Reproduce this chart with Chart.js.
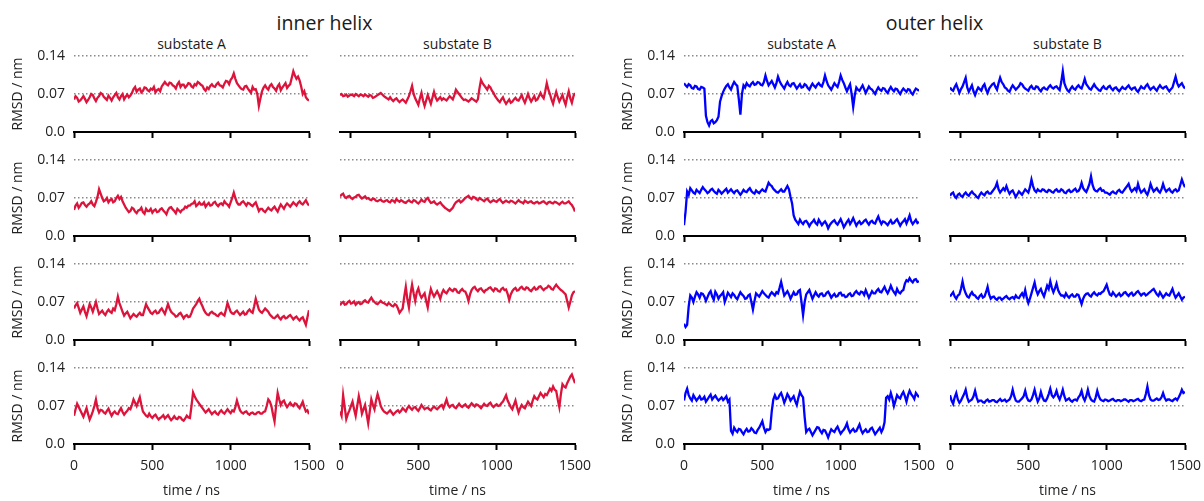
<!DOCTYPE html>
<html><head><meta charset="utf-8">
<script src="https://cdn.jsdelivr.net/npm/chart.js@4.4.1/dist/chart.umd.min.js"></script>
<style>
html,body{margin:0;padding:0;background:#fff;}
#wrap{position:relative;width:1204px;height:501px;overflow:hidden;font-family:'Open Sans',sans-serif;color:#1a1a1a;}
#wrap canvas{position:absolute;}
.t{position:absolute;white-space:nowrap;transform:translate(-50%,-50%);line-height:1;}
</style></head><body><div id="wrap"></div>
<script>
// ---- data (time in ns, RMSD in nm) ----
const timeNs = [0,10,20,30,40,50,60,70,80,90,100,110,120,130,140,150,160,170,180,190,200,210,220,230,240,250,260,270,280,290,300,310,320,330,340,350,360,370,380,390,400,410,420,430,440,450,460,470,480,490,500,510,520,530,540,550,560,570,580,590,600,610,620,630,640,650,660,670,680,690,700,710,720,730,740,750,760,770,780,790,800,810,820,830,840,850,860,870,880,890,900,910,920,930,940,950,960,970,980,990,1000,1010,1020,1030,1040,1050,1060,1070,1080,1090,1100,1110,1120,1130,1140,1150,1160,1170,1180,1190,1200,1210,1220,1230,1240,1250,1260,1270,1280,1290,1300,1310,1320,1330,1340,1350,1360,1370,1380,1390,1400,1410,1420,1430,1440,1450,1460,1470,1480,1490,1500];
const timeNsTopB = [-70,-60,-50,-40,-30,-20,-10,0,10,20,30,40,50,60,70,80,90,100,110,120,130,140,150,160,170,180,190,200,210,220,230,240,250,260,270,280,290,300,310,320,330,340,350,360,370,380,390,400,410,420,430,440,450,460,470,480,490,500,510,520,530,540,550,560,570,580,590,600,610,620,630,640,650,660,670,680,690,700,710,720,730,740,750,760,770,780,790,800,810,820,830,840,850,860,870,880,890,900,910,920,930,940,950,960,970,980,990,1000,1010,1020,1030,1040,1050,1060,1070,1080,1090,1100,1110,1120,1130,1140,1150,1160,1170,1180,1190,1200,1210,1220,1230,1240,1250,1260,1270,1280,1290,1300,1310,1320,1330,1340,1350,1360,1370,1380,1390,1400,1410,1420,1430];
const xTickValues = [0,500,1000,1500];
const xTickValuesTopB = [0,500,1000,1430];
const yTickValues = [0,0.07,0.14];
const yTickLabels = ['0.0','0.07','0.14'];
const groupTitles = ['inner helix','outer helix'];
const columnTitles = ['substate A','substate B'];

const innerA1 = [0.060,0.066,0.063,0.056,0.058,0.062,0.066,0.061,0.055,0.059,0.064,0.070,0.068,0.062,0.057,0.063,0.066,0.072,0.070,0.065,0.062,0.059,0.067,0.063,0.058,0.064,0.068,0.072,0.064,0.060,0.066,0.070,0.060,0.065,0.069,0.064,0.067,0.072,0.079,0.083,0.074,0.078,0.080,0.073,0.076,0.082,0.081,0.077,0.075,0.080,0.078,0.083,0.073,0.077,0.079,0.075,0.084,0.088,0.092,0.088,0.086,0.091,0.090,0.086,0.084,0.080,0.088,0.092,0.083,0.087,0.087,0.082,0.085,0.090,0.089,0.084,0.082,0.088,0.086,0.092,0.090,0.087,0.085,0.079,0.076,0.082,0.079,0.085,0.088,0.084,0.083,0.088,0.091,0.086,0.085,0.082,0.089,0.094,0.093,0.088,0.096,0.100,0.108,0.098,0.090,0.086,0.082,0.079,0.078,0.084,0.085,0.080,0.076,0.072,0.083,0.078,0.079,0.070,0.048,0.062,0.075,0.082,0.086,0.081,0.078,0.085,0.088,0.083,0.080,0.076,0.084,0.088,0.077,0.082,0.086,0.090,0.081,0.085,0.088,0.100,0.112,0.104,0.098,0.102,0.095,0.084,0.070,0.075,0.064,0.060,0.058];
const innerA2 = [0.048,0.056,0.060,0.052,0.056,0.061,0.062,0.057,0.054,0.058,0.060,0.064,0.058,0.055,0.063,0.072,0.086,0.078,0.070,0.064,0.066,0.070,0.062,0.066,0.068,0.062,0.064,0.070,0.074,0.068,0.072,0.064,0.058,0.052,0.048,0.044,0.046,0.052,0.050,0.045,0.042,0.047,0.048,0.052,0.044,0.041,0.050,0.046,0.046,0.050,0.043,0.047,0.049,0.044,0.045,0.049,0.051,0.047,0.044,0.040,0.048,0.052,0.053,0.049,0.046,0.042,0.050,0.047,0.044,0.048,0.049,0.054,0.052,0.056,0.056,0.059,0.060,0.064,0.055,0.058,0.062,0.058,0.058,0.062,0.054,0.058,0.061,0.056,0.057,0.061,0.063,0.058,0.055,0.059,0.060,0.057,0.064,0.060,0.058,0.054,0.062,0.070,0.080,0.070,0.062,0.058,0.058,0.062,0.064,0.060,0.056,0.061,0.060,0.057,0.055,0.059,0.062,0.054,0.046,0.050,0.050,0.046,0.044,0.048,0.052,0.049,0.047,0.051,0.054,0.049,0.045,0.052,0.058,0.054,0.050,0.056,0.060,0.057,0.054,0.058,0.062,0.059,0.056,0.061,0.064,0.060,0.058,0.062,0.066,0.060,0.056];
const innerA3 = [0.058,0.064,0.068,0.059,0.050,0.056,0.062,0.052,0.044,0.055,0.066,0.060,0.052,0.061,0.070,0.058,0.048,0.051,0.054,0.049,0.046,0.052,0.056,0.052,0.050,0.058,0.055,0.066,0.080,0.068,0.060,0.052,0.045,0.049,0.052,0.046,0.040,0.044,0.048,0.045,0.043,0.047,0.050,0.046,0.046,0.056,0.066,0.060,0.055,0.050,0.048,0.052,0.054,0.049,0.050,0.055,0.058,0.053,0.048,0.057,0.066,0.058,0.052,0.049,0.047,0.043,0.044,0.048,0.050,0.045,0.040,0.044,0.046,0.042,0.043,0.050,0.058,0.062,0.066,0.072,0.076,0.068,0.062,0.055,0.050,0.047,0.046,0.050,0.052,0.049,0.048,0.045,0.044,0.048,0.050,0.047,0.045,0.056,0.068,0.060,0.052,0.049,0.048,0.052,0.054,0.050,0.046,0.049,0.052,0.047,0.048,0.053,0.056,0.052,0.050,0.062,0.076,0.066,0.056,0.052,0.050,0.054,0.058,0.055,0.052,0.047,0.044,0.041,0.040,0.043,0.046,0.041,0.038,0.042,0.044,0.040,0.041,0.044,0.046,0.042,0.038,0.041,0.043,0.039,0.036,0.040,0.042,0.035,0.028,0.042,0.055];
const innerA4 = [0.052,0.064,0.074,0.068,0.062,0.056,0.050,0.058,0.066,0.055,0.045,0.052,0.060,0.070,0.082,0.066,0.058,0.063,0.062,0.058,0.056,0.061,0.065,0.058,0.052,0.057,0.060,0.056,0.055,0.061,0.066,0.059,0.054,0.058,0.061,0.066,0.064,0.072,0.082,0.076,0.070,0.078,0.086,0.072,0.060,0.056,0.052,0.050,0.056,0.051,0.048,0.052,0.054,0.049,0.045,0.048,0.050,0.053,0.047,0.050,0.053,0.048,0.044,0.047,0.051,0.047,0.046,0.050,0.049,0.045,0.043,0.047,0.052,0.049,0.048,0.070,0.095,0.088,0.082,0.078,0.074,0.070,0.066,0.062,0.058,0.061,0.064,0.059,0.055,0.058,0.060,0.056,0.054,0.059,0.062,0.058,0.056,0.060,0.064,0.060,0.057,0.062,0.060,0.068,0.080,0.070,0.062,0.058,0.056,0.059,0.060,0.056,0.054,0.057,0.058,0.055,0.055,0.058,0.059,0.056,0.056,0.059,0.060,0.070,0.082,0.078,0.070,0.055,0.042,0.070,0.094,0.082,0.072,0.078,0.080,0.073,0.068,0.072,0.076,0.072,0.070,0.075,0.074,0.069,0.066,0.072,0.078,0.068,0.060,0.062,0.055];
const innerB1 = [0.068,0.070,0.066,0.067,0.069,0.065,0.067,0.069,0.068,0.066,0.070,0.068,0.066,0.069,0.068,0.066,0.069,0.067,0.065,0.068,0.067,0.063,0.064,0.066,0.068,0.070,0.072,0.069,0.066,0.064,0.062,0.060,0.064,0.060,0.057,0.060,0.062,0.058,0.055,0.058,0.060,0.057,0.054,0.060,0.066,0.075,0.085,0.070,0.062,0.056,0.050,0.062,0.072,0.058,0.048,0.058,0.068,0.060,0.052,0.063,0.074,0.064,0.058,0.061,0.064,0.059,0.062,0.060,0.058,0.062,0.066,0.063,0.060,0.068,0.078,0.074,0.070,0.066,0.062,0.059,0.060,0.058,0.056,0.059,0.062,0.060,0.058,0.056,0.060,0.080,0.096,0.090,0.086,0.082,0.078,0.085,0.082,0.076,0.072,0.066,0.062,0.058,0.055,0.060,0.064,0.057,0.052,0.056,0.060,0.054,0.056,0.060,0.063,0.059,0.058,0.063,0.068,0.060,0.054,0.062,0.070,0.062,0.056,0.061,0.066,0.058,0.060,0.066,0.072,0.066,0.062,0.075,0.090,0.078,0.070,0.060,0.052,0.064,0.074,0.064,0.056,0.062,0.068,0.058,0.050,0.064,0.075,0.062,0.054,0.066,0.072];
const innerB2 = [0.073,0.076,0.078,0.072,0.070,0.073,0.074,0.070,0.068,0.071,0.072,0.075,0.076,0.072,0.069,0.071,0.073,0.069,0.070,0.067,0.066,0.069,0.068,0.065,0.064,0.066,0.067,0.064,0.063,0.065,0.066,0.063,0.062,0.066,0.065,0.062,0.068,0.065,0.063,0.066,0.064,0.062,0.061,0.064,0.066,0.063,0.062,0.066,0.065,0.062,0.060,0.063,0.067,0.064,0.063,0.068,0.070,0.065,0.061,0.062,0.064,0.060,0.058,0.060,0.062,0.058,0.055,0.052,0.050,0.048,0.046,0.049,0.052,0.058,0.062,0.064,0.066,0.062,0.064,0.067,0.070,0.072,0.074,0.070,0.068,0.072,0.071,0.068,0.066,0.070,0.068,0.066,0.064,0.067,0.069,0.065,0.062,0.064,0.066,0.064,0.063,0.066,0.068,0.064,0.061,0.063,0.065,0.063,0.062,0.065,0.064,0.062,0.060,0.063,0.066,0.063,0.062,0.060,0.065,0.063,0.061,0.063,0.064,0.061,0.060,0.062,0.063,0.060,0.061,0.063,0.064,0.061,0.059,0.062,0.063,0.061,0.060,0.063,0.062,0.060,0.058,0.061,0.063,0.060,0.060,0.062,0.064,0.060,0.057,0.052,0.045];
const innerB3 = [0.064,0.068,0.070,0.065,0.066,0.070,0.072,0.067,0.068,0.071,0.065,0.068,0.070,0.066,0.067,0.071,0.073,0.070,0.069,0.074,0.078,0.073,0.070,0.067,0.066,0.069,0.072,0.069,0.068,0.066,0.064,0.068,0.066,0.063,0.062,0.066,0.064,0.058,0.050,0.054,0.058,0.080,0.098,0.075,0.060,0.085,0.102,0.086,0.072,0.088,0.095,0.084,0.078,0.082,0.086,0.072,0.060,0.080,0.094,0.086,0.080,0.085,0.090,0.084,0.076,0.086,0.092,0.088,0.086,0.091,0.095,0.092,0.090,0.094,0.093,0.088,0.087,0.091,0.094,0.090,0.089,0.082,0.072,0.084,0.092,0.096,0.098,0.093,0.090,0.094,0.095,0.091,0.088,0.092,0.093,0.096,0.097,0.093,0.090,0.095,0.094,0.090,0.089,0.094,0.096,0.092,0.093,0.085,0.074,0.084,0.090,0.094,0.096,0.091,0.092,0.096,0.098,0.094,0.093,0.097,0.096,0.092,0.090,0.094,0.097,0.093,0.094,0.098,0.099,0.095,0.092,0.095,0.096,0.100,0.098,0.094,0.093,0.098,0.102,0.098,0.095,0.092,0.090,0.087,0.084,0.072,0.060,0.070,0.082,0.088,0.090];
const innerB4 = [0.060,0.052,0.090,0.068,0.046,0.055,0.062,0.070,0.078,0.064,0.052,0.070,0.088,0.074,0.056,0.064,0.072,0.055,0.038,0.060,0.082,0.072,0.064,0.080,0.092,0.082,0.070,0.064,0.060,0.058,0.056,0.059,0.062,0.058,0.054,0.057,0.060,0.062,0.058,0.061,0.066,0.063,0.060,0.066,0.070,0.066,0.063,0.067,0.068,0.064,0.061,0.066,0.072,0.068,0.064,0.066,0.067,0.064,0.062,0.066,0.069,0.066,0.064,0.067,0.070,0.072,0.066,0.074,0.082,0.072,0.068,0.071,0.072,0.068,0.066,0.070,0.074,0.070,0.068,0.071,0.073,0.069,0.067,0.071,0.075,0.072,0.069,0.073,0.072,0.069,0.066,0.070,0.074,0.071,0.070,0.074,0.076,0.071,0.068,0.071,0.073,0.070,0.071,0.075,0.078,0.084,0.090,0.080,0.074,0.068,0.064,0.072,0.080,0.068,0.058,0.066,0.072,0.068,0.066,0.072,0.078,0.074,0.070,0.080,0.088,0.084,0.082,0.088,0.094,0.090,0.086,0.092,0.090,0.096,0.102,0.098,0.106,0.100,0.098,0.082,0.068,0.092,0.110,0.106,0.104,0.112,0.118,0.124,0.128,0.120,0.112];
const outerA1 = [0.090,0.086,0.083,0.088,0.086,0.081,0.080,0.085,0.084,0.079,0.078,0.083,0.082,0.080,0.030,0.018,0.012,0.020,0.022,0.016,0.018,0.022,0.028,0.056,0.066,0.074,0.080,0.085,0.088,0.082,0.078,0.086,0.092,0.088,0.085,0.060,0.032,0.070,0.086,0.082,0.090,0.086,0.084,0.089,0.092,0.087,0.088,0.092,0.091,0.087,0.086,0.092,0.104,0.094,0.086,0.090,0.094,0.088,0.082,0.090,0.102,0.094,0.088,0.084,0.080,0.087,0.092,0.086,0.084,0.089,0.090,0.085,0.080,0.084,0.088,0.082,0.083,0.088,0.086,0.081,0.078,0.084,0.089,0.085,0.082,0.087,0.090,0.086,0.084,0.092,0.104,0.094,0.086,0.082,0.078,0.084,0.090,0.086,0.083,0.092,0.104,0.096,0.090,0.082,0.075,0.082,0.088,0.070,0.046,0.068,0.082,0.078,0.076,0.081,0.086,0.079,0.072,0.078,0.084,0.080,0.078,0.074,0.070,0.077,0.082,0.078,0.076,0.081,0.080,0.075,0.072,0.078,0.083,0.078,0.075,0.080,0.079,0.074,0.070,0.076,0.080,0.077,0.074,0.079,0.078,0.072,0.069,0.075,0.080,0.078,0.076];
const outerA2 = [0.020,0.045,0.082,0.076,0.088,0.084,0.080,0.078,0.085,0.082,0.079,0.085,0.090,0.086,0.083,0.079,0.081,0.085,0.087,0.083,0.080,0.078,0.085,0.082,0.078,0.081,0.084,0.087,0.080,0.083,0.086,0.082,0.079,0.083,0.084,0.080,0.076,0.080,0.085,0.082,0.081,0.085,0.088,0.083,0.080,0.078,0.084,0.081,0.079,0.083,0.086,0.083,0.082,0.090,0.098,0.094,0.092,0.087,0.084,0.081,0.080,0.083,0.086,0.082,0.082,0.087,0.092,0.086,0.072,0.060,0.038,0.030,0.026,0.022,0.030,0.025,0.022,0.027,0.028,0.024,0.018,0.023,0.026,0.030,0.024,0.021,0.030,0.025,0.020,0.024,0.027,0.022,0.014,0.020,0.024,0.027,0.029,0.024,0.021,0.026,0.031,0.024,0.016,0.021,0.026,0.030,0.022,0.027,0.033,0.026,0.019,0.024,0.027,0.022,0.024,0.028,0.030,0.025,0.021,0.026,0.028,0.024,0.023,0.030,0.036,0.028,0.022,0.027,0.026,0.023,0.020,0.025,0.029,0.023,0.024,0.028,0.031,0.025,0.019,0.024,0.027,0.031,0.023,0.030,0.038,0.027,0.022,0.026,0.030,0.024,0.026];
const outerA3 = [0.030,0.024,0.028,0.062,0.082,0.078,0.070,0.080,0.088,0.084,0.078,0.086,0.085,0.080,0.072,0.079,0.086,0.090,0.080,0.074,0.089,0.084,0.076,0.081,0.084,0.088,0.070,0.078,0.087,0.083,0.079,0.086,0.083,0.078,0.075,0.082,0.088,0.084,0.081,0.076,0.077,0.082,0.084,0.070,0.056,0.072,0.086,0.083,0.080,0.085,0.090,0.086,0.083,0.080,0.078,0.084,0.088,0.085,0.082,0.088,0.086,0.096,0.107,0.094,0.082,0.086,0.090,0.084,0.076,0.082,0.088,0.083,0.084,0.090,0.092,0.070,0.046,0.070,0.084,0.088,0.092,0.084,0.076,0.082,0.088,0.083,0.080,0.085,0.086,0.081,0.082,0.087,0.089,0.084,0.078,0.082,0.085,0.080,0.081,0.086,0.087,0.082,0.083,0.079,0.080,0.084,0.086,0.081,0.082,0.087,0.090,0.086,0.084,0.089,0.088,0.083,0.092,0.085,0.078,0.084,0.090,0.086,0.086,0.091,0.094,0.089,0.088,0.093,0.098,0.091,0.086,0.092,0.100,0.093,0.088,0.084,0.094,0.088,0.086,0.090,0.092,0.104,0.110,0.108,0.114,0.109,0.106,0.111,0.112,0.107,0.108];
const outerA4 = [0.080,0.094,0.102,0.090,0.084,0.080,0.090,0.085,0.080,0.084,0.088,0.082,0.083,0.087,0.078,0.082,0.087,0.091,0.082,0.086,0.089,0.084,0.080,0.083,0.086,0.081,0.084,0.088,0.078,0.082,0.024,0.019,0.030,0.025,0.022,0.028,0.027,0.022,0.018,0.024,0.028,0.023,0.024,0.029,0.026,0.021,0.020,0.026,0.030,0.036,0.042,0.030,0.022,0.027,0.026,0.028,0.060,0.082,0.090,0.083,0.084,0.090,0.094,0.086,0.076,0.083,0.092,0.087,0.080,0.084,0.088,0.079,0.072,0.085,0.096,0.090,0.086,0.050,0.022,0.026,0.028,0.022,0.016,0.021,0.026,0.031,0.030,0.024,0.020,0.026,0.025,0.019,0.012,0.020,0.027,0.024,0.022,0.028,0.032,0.025,0.019,0.023,0.026,0.031,0.038,0.027,0.021,0.025,0.028,0.023,0.024,0.030,0.036,0.026,0.020,0.024,0.027,0.022,0.023,0.028,0.030,0.024,0.018,0.022,0.026,0.030,0.022,0.028,0.040,0.085,0.088,0.082,0.094,0.084,0.070,0.080,0.090,0.086,0.084,0.091,0.096,0.088,0.078,0.090,0.098,0.092,0.088,0.083,0.094,0.090,0.086];
const outerB1 = [0.082,0.078,0.076,0.083,0.088,0.080,0.072,0.079,0.084,0.092,0.100,0.082,0.074,0.080,0.086,0.075,0.068,0.076,0.082,0.079,0.076,0.084,0.088,0.078,0.072,0.080,0.084,0.088,0.090,0.083,0.078,0.090,0.100,0.092,0.088,0.082,0.080,0.076,0.074,0.081,0.086,0.082,0.078,0.081,0.084,0.090,0.088,0.083,0.080,0.078,0.076,0.082,0.085,0.080,0.079,0.084,0.083,0.078,0.075,0.080,0.082,0.079,0.078,0.083,0.086,0.082,0.080,0.083,0.084,0.080,0.077,0.092,0.112,0.090,0.082,0.077,0.074,0.080,0.084,0.080,0.078,0.083,0.086,0.082,0.080,0.088,0.098,0.088,0.084,0.080,0.078,0.083,0.088,0.083,0.080,0.077,0.076,0.081,0.084,0.080,0.079,0.083,0.085,0.080,0.077,0.081,0.082,0.078,0.075,0.079,0.083,0.080,0.079,0.083,0.086,0.081,0.078,0.081,0.082,0.077,0.074,0.079,0.084,0.081,0.080,0.085,0.088,0.082,0.078,0.081,0.083,0.079,0.076,0.082,0.086,0.082,0.080,0.083,0.084,0.079,0.075,0.079,0.082,0.092,0.102,0.090,0.084,0.087,0.090,0.084,0.080];
const outerB2 = [0.074,0.078,0.080,0.073,0.070,0.076,0.078,0.074,0.072,0.077,0.080,0.076,0.074,0.079,0.082,0.078,0.076,0.072,0.070,0.076,0.080,0.077,0.075,0.080,0.082,0.078,0.078,0.082,0.086,0.090,0.098,0.086,0.080,0.084,0.088,0.084,0.092,0.084,0.078,0.082,0.084,0.078,0.072,0.077,0.082,0.079,0.076,0.081,0.086,0.083,0.080,0.090,0.104,0.092,0.084,0.081,0.086,0.083,0.082,0.086,0.085,0.082,0.081,0.085,0.084,0.081,0.080,0.084,0.086,0.082,0.082,0.086,0.084,0.080,0.079,0.083,0.085,0.081,0.082,0.085,0.087,0.082,0.083,0.088,0.098,0.088,0.084,0.081,0.088,0.096,0.110,0.094,0.086,0.083,0.082,0.086,0.088,0.083,0.084,0.080,0.080,0.078,0.076,0.080,0.082,0.079,0.078,0.083,0.085,0.081,0.080,0.084,0.088,0.092,0.096,0.087,0.082,0.085,0.088,0.083,0.096,0.086,0.080,0.083,0.086,0.080,0.076,0.084,0.096,0.088,0.082,0.085,0.088,0.083,0.080,0.086,0.096,0.087,0.082,0.085,0.087,0.082,0.080,0.084,0.086,0.082,0.084,0.094,0.104,0.096,0.090];
const outerB3 = [0.080,0.084,0.088,0.080,0.076,0.082,0.084,0.094,0.108,0.094,0.086,0.080,0.078,0.084,0.088,0.083,0.082,0.078,0.076,0.081,0.084,0.078,0.080,0.088,0.098,0.084,0.076,0.079,0.080,0.076,0.074,0.078,0.078,0.074,0.076,0.079,0.081,0.077,0.075,0.078,0.079,0.076,0.082,0.078,0.077,0.082,0.086,0.080,0.092,0.078,0.068,0.076,0.086,0.096,0.106,0.092,0.084,0.090,0.094,0.086,0.080,0.090,0.100,0.094,0.108,0.096,0.088,0.095,0.104,0.092,0.086,0.082,0.082,0.079,0.086,0.081,0.078,0.082,0.084,0.080,0.080,0.084,0.083,0.075,0.066,0.076,0.082,0.085,0.086,0.082,0.080,0.085,0.088,0.084,0.082,0.086,0.085,0.088,0.090,0.096,0.102,0.092,0.084,0.082,0.088,0.084,0.080,0.083,0.086,0.081,0.083,0.087,0.088,0.084,0.081,0.085,0.087,0.082,0.084,0.088,0.090,0.086,0.082,0.085,0.086,0.082,0.084,0.087,0.089,0.092,0.094,0.089,0.084,0.081,0.088,0.083,0.078,0.082,0.086,0.083,0.082,0.088,0.094,0.085,0.078,0.082,0.086,0.080,0.074,0.078,0.080];
const outerB4 = [0.090,0.080,0.074,0.086,0.094,0.082,0.076,0.080,0.086,0.092,0.100,0.086,0.078,0.080,0.082,0.088,0.098,0.086,0.078,0.080,0.080,0.077,0.076,0.080,0.082,0.078,0.079,0.081,0.081,0.078,0.077,0.080,0.083,0.079,0.080,0.082,0.078,0.080,0.082,0.088,0.100,0.088,0.080,0.078,0.078,0.081,0.084,0.088,0.098,0.086,0.080,0.079,0.082,0.090,0.100,0.088,0.078,0.084,0.096,0.086,0.080,0.079,0.084,0.092,0.102,0.090,0.086,0.090,0.098,0.088,0.082,0.090,0.100,0.088,0.080,0.082,0.084,0.080,0.078,0.081,0.082,0.080,0.086,0.090,0.098,0.086,0.080,0.088,0.100,0.088,0.082,0.079,0.078,0.086,0.098,0.088,0.082,0.080,0.079,0.082,0.081,0.079,0.080,0.082,0.083,0.080,0.079,0.081,0.081,0.079,0.080,0.082,0.082,0.080,0.078,0.081,0.081,0.079,0.080,0.082,0.083,0.080,0.079,0.081,0.082,0.092,0.106,0.090,0.082,0.080,0.080,0.082,0.084,0.081,0.082,0.086,0.094,0.085,0.080,0.082,0.082,0.080,0.079,0.082,0.084,0.081,0.086,0.092,0.100,0.094,0.096];

const panels = [
  {group:0,col:0,row:0,values:innerA1},{group:0,col:0,row:1,values:innerA2},{group:0,col:0,row:2,values:innerA3},{group:0,col:0,row:3,values:innerA4},
  {group:0,col:1,row:0,values:innerB1},{group:0,col:1,row:1,values:innerB2},{group:0,col:1,row:2,values:innerB3},{group:0,col:1,row:3,values:innerB4},
  {group:1,col:0,row:0,values:outerA1},{group:1,col:0,row:1,values:outerA2},{group:1,col:0,row:2,values:outerA3},{group:1,col:0,row:3,values:outerA4},
  {group:1,col:1,row:0,values:outerB1},{group:1,col:1,row:1,values:outerB2},{group:1,col:1,row:2,values:outerB3},{group:1,col:1,row:3,values:outerB4}
];

// ---- layout / style ----
const groupColors = ['#dc143c','#0000ff'];
const plotLeft = [[74,340],[684,950]];
const plotW = 235, plotH = 76;
const rowTop = [56,160,264,368];
const yAxisW = 74, padTop = 22, padRight = 28, pageH = 501;
const wrap = document.getElementById('wrap');
Chart.defaults.font.family = "'Open Sans', sans-serif";
Chart.defaults.font.size = 14;
Chart.defaults.color = '#222';

function addText(txt, cx, cy, size){
  const d = document.createElement('div');
  d.className = 't'; d.textContent = txt;
  d.style.left = cx + 'px'; d.style.top = cy + 'px'; d.style.fontSize = size + 'px';
  wrap.appendChild(d);
}
for (let g = 0; g < 2; g++) {
  addText(groupTitles[g], (plotLeft[g][0] + plotLeft[g][1] + plotW) / 2, 23, 19.5);
  for (let c = 0; c < 2; c++) addText(columnTitles[c], plotLeft[g][c] + plotW / 2, 44, 14);
}

panels.forEach(p => {
  const left = plotLeft[p.group][p.col];
  const top = rowTop[p.row];
  const bottomRow = p.row === 3;
  const topB = p.row === 0 && p.col === 1;
  const xh = bottomRow ? pageH - (top + plotH) : 22;
  const W = yAxisW + plotW + padRight, H = padTop + plotH + xh;
  const cv = document.createElement('canvas');
  cv.width = W; cv.height = H;
  cv.style.width = W + 'px'; cv.style.height = H + 'px';
  cv.style.left = (left - yAxisW) + 'px'; cv.style.top = (top - padTop) + 'px';
  wrap.appendChild(cv);
  const xs = topB ? timeNsTopB : timeNs;
  const xt = topB ? xTickValuesTopB : xTickValues;
  const pts = p.values.map((v, i) => ({x: xs[i], y: v}));
  new Chart(cv, {
    type: 'line',
    data: {datasets: [{data: pts, borderColor: groupColors[p.group], borderWidth: 2.3, pointRadius: 0, tension: 0, fill: false}]},
    options: {
      responsive: false, animation: false, devicePixelRatio: 1,
      layout: {padding: {left: 0, top: padTop, right: padRight, bottom: 0}},
      plugins: {legend: {display: false}, tooltip: {enabled: false}},
      scales: {
        x: {
          type: 'linear', min: xs[0], max: xs[xs.length - 1],
          afterBuildTicks: s => { s.ticks = xt.map(v => ({value: v})); },
          afterFit: s => { s.height = xh; },
          ticks: {display: bottomRow, autoSkip: false, maxRotation: 0, padding: 8, color: '#222', font: {size: 14}, callback: v => String(v)},
          grid: {drawOnChartArea: false, drawTicks: true, tickLength: 6, tickWidth: 2, tickColor: '#000'},
          border: {display: true, width: 2, color: '#000'},
          title: {display: bottomRow, text: 'time / ns', color: '#222', font: {size: 14}, padding: {top: 0, bottom: 2}}
        },
        y: {
          type: 'linear', min: 0, max: 0.14,
          afterBuildTicks: s => { s.ticks = yTickValues.map(v => ({value: v})); },
          afterFit: s => { s.width = yAxisW; },
          ticks: {display: p.col === 0, padding: 9, color: '#222', font: {size: 14}, callback: (v, i) => yTickLabels[i]},
          grid: {drawTicks: false, lineWidth: 1.5, color: c => (c.tick && c.tick.value > 0) ? '#8a8a8a' : 'rgba(0,0,0,0)'},
          border: {display: false, dash: [1.5, 2.5]},
          title: {display: p.col === 0, text: 'RMSD / nm', color: '#222', font: {size: 14}, padding: {top: 10, bottom: 0}}
        }
      }
    }
  });
});
</script></body></html>
